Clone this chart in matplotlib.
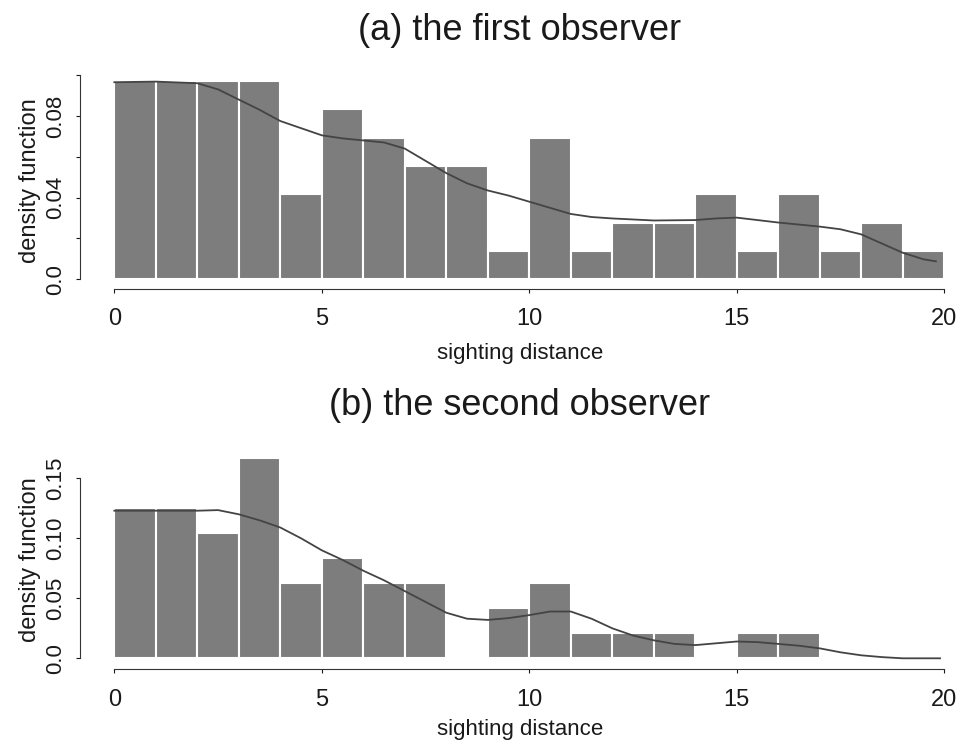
import matplotlib
matplotlib.use('Agg')
import matplotlib.pyplot as plt
import numpy as np

plt.rcParams['font.family'] = ['Liberation Sans', 'DejaVu Sans']

# histogram bins (sighting distance, width 1)
bin_edges = np.arange(0, 21)

# first observer: density per bin
dens_a = [0.0972, 0.0972, 0.0972, 0.0972, 0.0417, 0.0833, 0.0694, 0.0556, 0.0556, 0.0139,
          0.0694, 0.0139, 0.0278, 0.0278, 0.0417, 0.0139, 0.0417, 0.0139, 0.0278, 0.0139]
# second observer: density per bin
dens_b = [0.125, 0.125, 0.1042, 0.1667, 0.0625, 0.0833, 0.0625, 0.0625, 0.0, 0.0417,
          0.0625, 0.0208, 0.0208, 0.0208, 0.0, 0.0208, 0.0208, 0.0, 0.0, 0.0]

# smoothed density curves
curve_a_x = [0, 1, 2, 2.5, 3, 3.5, 4, 4.5, 5, 5.5, 6, 6.5, 7, 7.5, 8, 8.5, 9, 9.5, 10,
             10.5, 11, 11.5, 12, 13, 14, 14.5, 15, 15.5, 16, 16.5, 17, 17.5, 18, 18.5,
             19, 19.5, 19.8]
curve_a_y = [0.0965, 0.0968, 0.096, 0.093, 0.088, 0.083, 0.0775, 0.074, 0.0705, 0.069,
             0.068, 0.067, 0.064, 0.058, 0.052, 0.047, 0.0435, 0.041, 0.038, 0.035, 0.032,
             0.0305, 0.0298, 0.0288, 0.029, 0.0298, 0.0302, 0.029, 0.0278, 0.0268, 0.0258,
             0.0245, 0.022, 0.0175, 0.013, 0.0098, 0.0088]
curve_b_x = [0, 1, 2, 2.5, 3, 3.5, 4, 4.5, 5, 5.5, 6, 6.5, 7, 7.5, 8, 8.5, 9, 9.5, 10,
             10.5, 11, 11.5, 12, 12.5, 13, 13.5, 14, 14.5, 15, 15.5, 16, 16.5, 17, 17.5,
             18, 18.5, 19, 19.9]
curve_b_y = [0.123, 0.123, 0.123, 0.1235, 0.120, 0.115, 0.109, 0.100, 0.090, 0.082, 0.073,
             0.065, 0.056, 0.047, 0.038, 0.033, 0.032, 0.0335, 0.036, 0.039, 0.039, 0.033,
             0.025, 0.019, 0.015, 0.012, 0.011, 0.0125, 0.014, 0.0135, 0.012, 0.0105,
             0.0083, 0.005, 0.0025, 0.001, 0.0, 0.0]

panels = [
    dict(title='(a) the first observer', dens=dens_a, cx=curve_a_x, cy=curve_a_y,
         pos=[80/960, 0.6126, 880/960, 0.2895], ylim=(-0.00475, 0.101),
         yticks=[0, 0.02, 0.04, 0.06, 0.08, 0.10],
         ylabels=['0.0', '', '0.04', '', '0.08', ''], ytop=0.10, tpad=24, xpad=9),
    dict(title='(b) the second observer', dens=dens_b, cx=curve_b_x, cy=curve_b_y,
         pos=[80/960, 0.1028, 880/960, 0.294], ylim=(-0.00917, 0.1736),
         yticks=[0, 0.05, 0.10, 0.15],
         ylabels=['0.0', '0.05', '0.10', '0.15'], ytop=0.15, tpad=25, xpad=6),
]

fig = plt.figure(figsize=(9.6, 7.46), dpi=100)
txt = '#1a1a1a'

for p in panels:
    ax = fig.add_axes(p['pos'])
    ax.bar(bin_edges[:-1], p['dens'], width=1, align='edge', color='#7d7d7d',
           edgecolor='white', linewidth=1.5)
    ax.plot(p['cx'], p['cy'], color='#444444', linewidth=1.3)
    ax.set_xlim(-0.827, 20.38)
    ax.set_ylim(*p['ylim'])

    for s in ['top', 'right']:
        ax.spines[s].set_visible(False)
    ax.spines['bottom'].set_bounds(0, 20)
    ax.spines['left'].set_bounds(0, p['ytop'])
    ax.spines['bottom'].set_color('#333333')
    ax.spines['left'].set_color('#333333')

    ax.set_xticks([0, 5, 10, 15, 20])
    ax.set_xticklabels(['0', '5', '10', '15', '20'])
    ax.set_yticks(p['yticks'])
    ax.set_yticklabels(p['ylabels'], rotation=90, va='center')
    ax.tick_params(axis='x', length=3, pad=11, labelsize=17, colors=txt)
    ax.tick_params(axis='y', length=3, pad=7, labelsize=16, colors=txt)

    ax.set_xlabel('sighting distance', fontsize=16, labelpad=p['xpad'], color=txt)
    ax.set_ylabel('density function', fontsize=17, labelpad=3, color=txt)
    ax.set_title(p['title'], fontsize=26, pad=p['tpad'], color=txt)

fig.savefig('out.png', dpi=100)
